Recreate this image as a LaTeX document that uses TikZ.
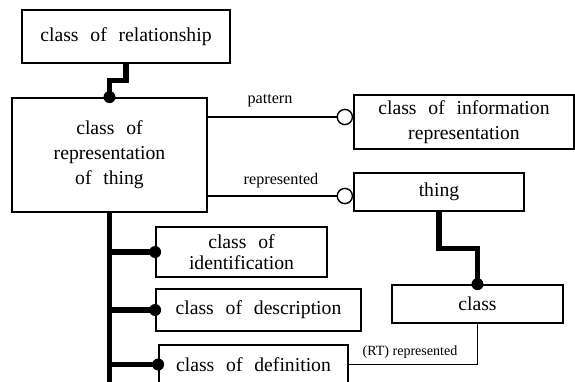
\documentclass[tikz,border=0pt]{standalone}
\usepackage{fontspec}
\setmainfont{Liberation Serif}
\tikzset{
  box/.style={draw, line width=1.2pt, align=center, inner sep=2pt,
    font={\fontsize{14}{17.7}\selectfont\spaceskip=0.6em\relax}},
  heavy/.style={line width=3.6pt},
  link/.style={line width=1pt},
  blob/.style={circle, fill, inner sep=0pt, minimum size=0.3cm},
  ring/.style={circle, draw, fill=white, line width=1pt, inner sep=0pt, minimum size=0.38cm},
  lbl/.style={font=\fontsize{11.5}{12}\selectfont, inner sep=1pt},
}
\begin{document}
\begin{tikzpicture}[x=0.025cm, y=-0.025cm]
  \clip (0,0) rectangle (575,382);

  % Cajas
  \node[box, minimum width=5.2cm, minimum height=1.325cm] (rel) at (126,36.5) {class of relationship};
  \node[box, minimum width=4.875cm, minimum height=2.85cm] (rep) at (109.5,155)
    {class of\\representation\\of thing};
  \node[box, minimum width=5.5cm, minimum height=1.35cm] (info) at (464,122)
    {class of information\\representation};
  \node[box, minimum width=4.25cm, minimum height=0.95cm] (thing) at (439,192) {thing};
  \node[box, minimum width=4.275cm, minimum height=1.25cm, font={\fontsize{14}{15}\selectfont\spaceskip=0.6em\relax}]
    (ident) at (241.5,252) {class of\\identification};
  \node[box, minimum width=5.125cm, minimum height=1.05cm] (descr) at (258.5,310) {class of description};
  \node[box, minimum width=4.725cm, minimum height=0.975cm] (defn) at (253.5,364.5) {class of definition};
  \node[box, minimum width=4.275cm, minimum height=0.95cm] (cls) at (477.5,304) {class};

  % Relacion -> representacion
  \draw[heavy] (rel.south) -- ++(0,17) -| (rep.north);
  \node[blob] at (rep.north) {};

  % pattern / represented
  \node[ring, anchor=east] (patring) at ([yshift=0.125cm]info.west) {};
  \draw[link] (rep.east |- patring) -- (patring);
  \node[ring, anchor=east] (repring) at ([yshift=-0.1cm]thing.west) {};
  \draw[link] (rep.east |- repring) -- (repring);
  \node[lbl] (patlbl) at (270,101) {pattern};
  \node[lbl] (replbl) at (281,181) {represented};

  % Tronco de subclases
  \draw[heavy] (rep.south) -- ++(0,200);
  \foreach \sub in {ident, descr, defn} {
    \draw[heavy] (rep.south |- \sub.west) -- (\sub.west);
    \node[blob] at (\sub.west) {};
  }

  % thing -> class
  \draw[heavy] (thing.south) -- ++(0,37) -| (cls.north);
  \node[blob] at (cls.north) {};

  % (RT) represented
  \draw[link] (cls.south) |- (defn.east);
  \node[lbl, font=\fontsize{10}{12}\selectfont] (rtlbl) at (410,352) {(RT) represented};
\end{tikzpicture}
\end{document}
